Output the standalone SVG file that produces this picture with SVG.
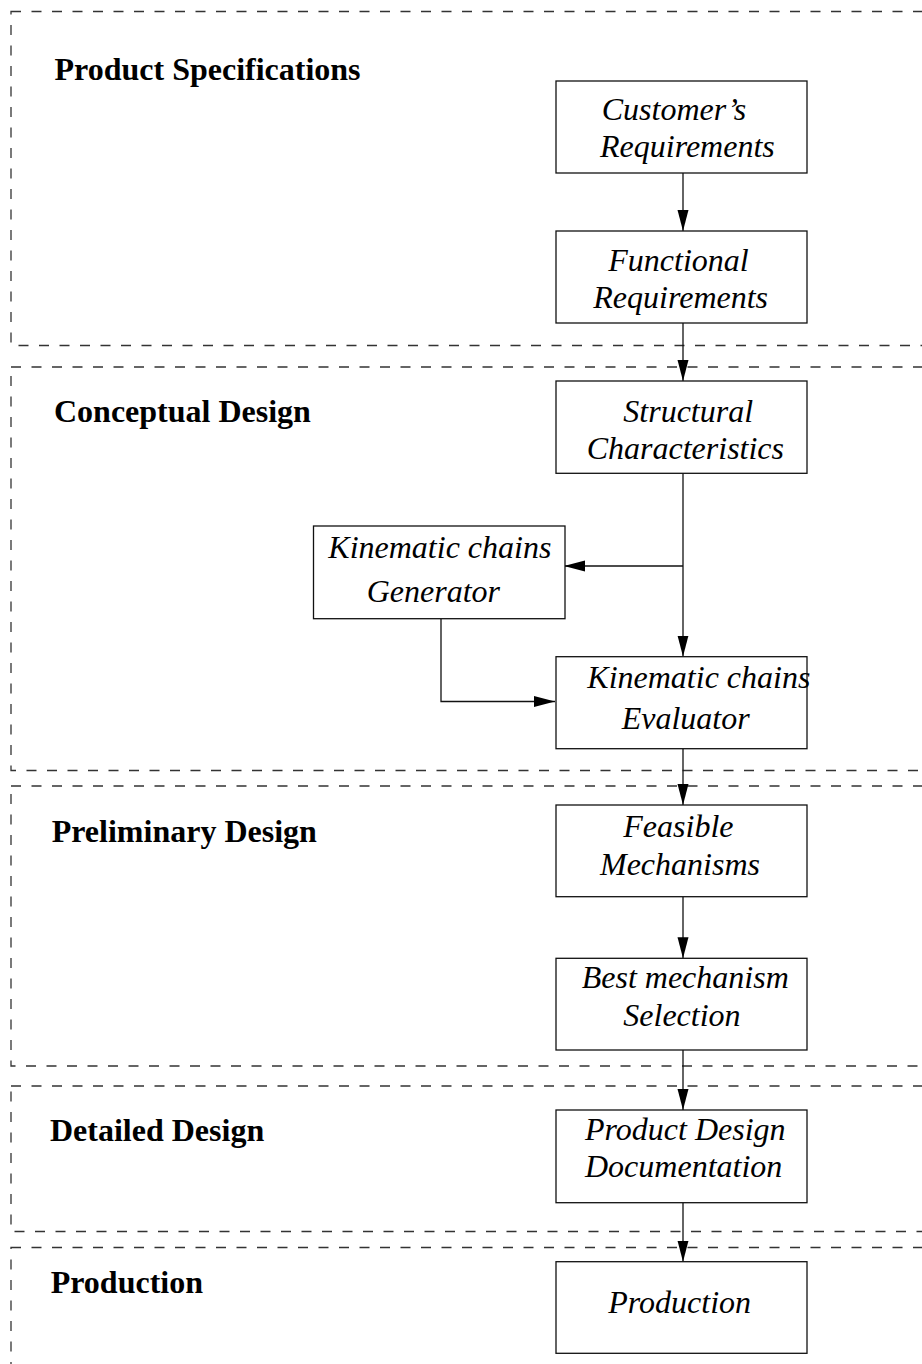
<svg xmlns="http://www.w3.org/2000/svg" width="922" height="1364" viewBox="0 0 922 1364">
<style>
.panel{fill:none;stroke:#333;stroke-width:1.3;stroke-dasharray:10 10.5}
.box{fill:#fff;stroke:#111;stroke-width:1.3}
.lbl{font-family:"Liberation Serif","Times New Roman",serif;font-weight:bold;font-size:32px;fill:#000}
.t{font-family:"Liberation Serif","Times New Roman",serif;font-style:italic;font-size:32px;fill:#000}
.c{fill:none;stroke:#111;stroke-width:1.3}
</style>
<defs>
<marker id="ah" markerUnits="userSpaceOnUse" markerWidth="22" markerHeight="12" refX="21" refY="5.5" orient="auto">
<path d="M0,0 L21,5.5 L0,11 z" fill="#000"/>
</marker>
</defs>
<rect width="922" height="1364" fill="#fff"/>
<g id="panels">
<g id="panel-spec"><rect class="panel" x="11" y="11.5" width="1000" height="334"/><text class="lbl" x="54.5" y="80">Product Specifications</text></g>
<g id="panel-concept"><rect class="panel" x="11" y="367" width="1000" height="403.5"/><text class="lbl" x="54" y="421.7">Conceptual Design</text></g>
<g id="panel-prelim"><rect class="panel" x="11" y="786" width="1000" height="280"/><text class="lbl" x="51.7" y="841.7">Preliminary Design</text></g>
<g id="panel-detail"><rect class="panel" x="11" y="1086" width="1000" height="145.5"/><text class="lbl" x="50" y="1140.7">Detailed Design</text></g>
<g id="panel-prod"><rect class="panel" x="11" y="1247.5" width="1000" height="200"/><text class="lbl" x="50.7" y="1293.3">Production</text></g>
</g>
<g id="connectors">
<line class="c" x1="683" y1="173" x2="683" y2="231" marker-end="url(#ah)"/>
<line class="c" x1="683" y1="323" x2="683" y2="381" marker-end="url(#ah)"/>
<line class="c" x1="683" y1="473" x2="683" y2="656.5" marker-end="url(#ah)"/>
<line class="c" x1="683" y1="566" x2="564" y2="566" marker-end="url(#ah)"/>
<polyline class="c" points="441,619 441,701.5 555,701.5" marker-end="url(#ah)"/>
<line class="c" x1="683" y1="749" x2="683" y2="805" marker-end="url(#ah)"/>
<line class="c" x1="683" y1="897" x2="683" y2="958.3" marker-end="url(#ah)"/>
<line class="c" x1="683" y1="1050" x2="683" y2="1110" marker-end="url(#ah)"/>
<line class="c" x1="683" y1="1203" x2="683" y2="1261.7" marker-end="url(#ah)"/>
</g>
<g id="customer"><rect class="box" x="556" y="81" width="251" height="92"/><text class="t" x="601.7" y="120">Customer’s</text><text class="t" x="600" y="157.3">Requirements</text></g>
<g id="functional"><rect class="box" x="556" y="231" width="251" height="92"/><text class="t" x="608.3" y="270.7">Functional</text><text class="t" x="593.3" y="308.3">Requirements</text></g>
<g id="structural"><rect class="box" x="556" y="381" width="251" height="92.3"/><text class="t" x="623.3" y="422.3">Structural</text><text class="t" x="586.7" y="459.3">Characteristics</text></g>
<g id="generator"><rect class="box" x="313.5" y="526" width="251.5" height="92.7"/><text class="t" x="328.3" y="557.7">Kinematic chains</text><text class="t" x="366.7" y="601.7">Generator</text></g>
<g id="evaluator"><rect class="box" x="556" y="656.7" width="251" height="92"/><text class="t" x="587.3" y="688.3">Kinematic chains</text><text class="t" x="621.7" y="729.3">Evaluator</text></g>
<g id="feasible"><rect class="box" x="556" y="805" width="251" height="91.7"/><text class="t" x="623.3" y="836.7">Feasible</text><text class="t" x="600" y="875">Mechanisms</text></g>
<g id="best"><rect class="box" x="556" y="958.3" width="251" height="91.7"/><text class="t" x="581.7" y="988.3">Best mechanism</text><text class="t" x="623.3" y="1026">Selection</text></g>
<g id="documentation"><rect class="box" x="556" y="1110" width="251" height="92.7"/><text class="t" x="585" y="1140">Product Design</text><text class="t" x="585" y="1176.7">Documentation</text></g>
<g id="production"><rect class="box" x="556" y="1261.7" width="251" height="91.6"/><text class="t" x="608.3" y="1313.3">Production</text></g>
</svg>
